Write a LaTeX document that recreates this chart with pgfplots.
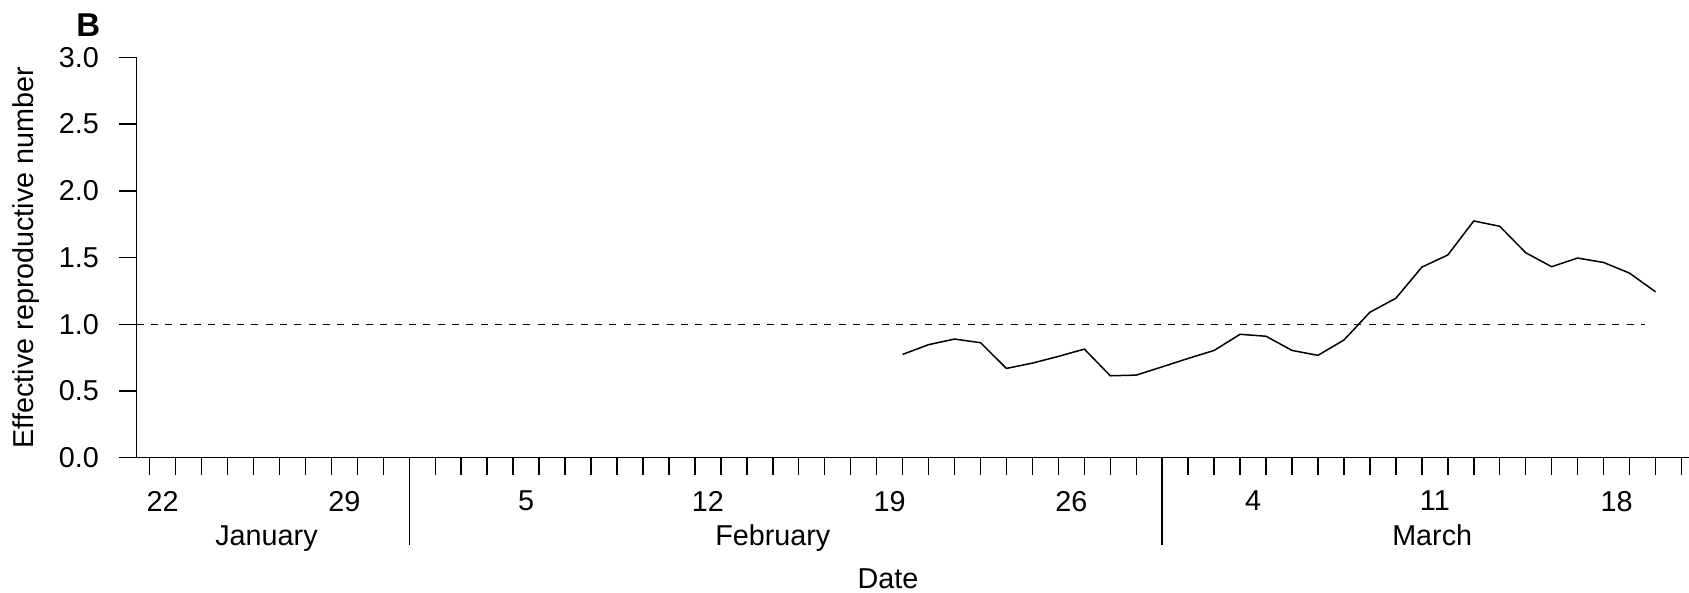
\documentclass[border=0pt]{standalone}
\usepackage{fontspec}
\setmainfont{Liberation Sans}
\usepackage{pgfplots}
\pgfplotsset{compat=1.18}
\pgfplotstableread{
t r
50.5 0.774
51.5 0.847
52.5 0.889
53.5 0.862
54.5 0.669
55.5 0.709
56.5 0.759
57.5 0.814
58.5 0.614
59.5 0.619
60.5 0.681
61.5 0.744
62.5 0.804
63.5 0.925
64.5 0.910
65.5 0.804
66.5 0.767
67.5 0.882
68.5 1.090
69.5 1.195
70.5 1.428
71.5 1.519
72.5 1.774
73.5 1.734
74.5 1.536
75.5 1.431
76.5 1.496
77.5 1.463
78.5 1.383
79.5 1.243
}\rtdata
\begin{document}
\fontsize{11.5}{13.5}\selectfont
\begin{tikzpicture}
\begin{axis}[
  scale only axis, width=620.9pt, height=160.16pt,
  xmin=21, xmax=80.79, ymin=0, ymax=3,
  axis x line=bottom, axis y line=left,
  axis line style={-, line width=0.6pt, black},
  clip=false,
  tick align=outside,
  major tick length=7pt,
  every tick/.style={black, line width=0.6pt},
  ytick={0,0.5,...,3},
  minor ytick={},
  yticklabel style={anchor=east, inner sep=0pt, xshift=-7.9pt, font=\fontsize{11.5}{13.5}\selectfont,
    /pgf/number format/.cd, fixed, fixed zerofill, precision=1, assume math mode=true},
  xtick={21.5,22.5,...,80.5},
  x tick label as interval,
  xticklabels={22,,,,,,,29,,,,,,,5,,,,,,,12,,,,,,,19,,,,,,,26,,,,,,,4,,,,,,,11,,,,,,,18,,},
  xticklabel style={anchor=north, inner sep=0pt, yshift=-6.1pt, font=\fontsize{11.5}{13.5}\selectfont},
  extra x ticks={31.5,60.5},
  extra x tick labels={},
  extra x tick style={major tick length=34.9pt},
]
\addplot[black, line width=0.6pt, dash pattern=on 2.8pt off 2.93pt] coordinates {(21,1) (79.1,1)};
\addplot[black, line width=0.6pt, line join=round] table[x=t, y=r] {\rtdata};
\node[anchor=base] at (axis cs:26,0) [yshift=-35.3pt] {January};
\node[anchor=base] at (axis cs:45.5,0) [yshift=-35.3pt] {February};
\node[anchor=base] at (axis cs:70.9,0) [yshift=-35.3pt] {March};
\node[anchor=base] at (axis cs:49.94,0) [yshift=-52.24pt] {Date};
\end{axis}
\node[rotate=90] at (-44.4pt,80.08pt) {Effective reproductive number};
\node[anchor=base, font=\fontsize{13.2}{15}\selectfont\bfseries] at (-19.36pt,168.68pt) {B};
\pgfresetboundingbox
\path[use as bounding box] (-54.68pt,-53.72pt) rectangle (620.9pt,183.08pt);
\end{tikzpicture}
\end{document}
